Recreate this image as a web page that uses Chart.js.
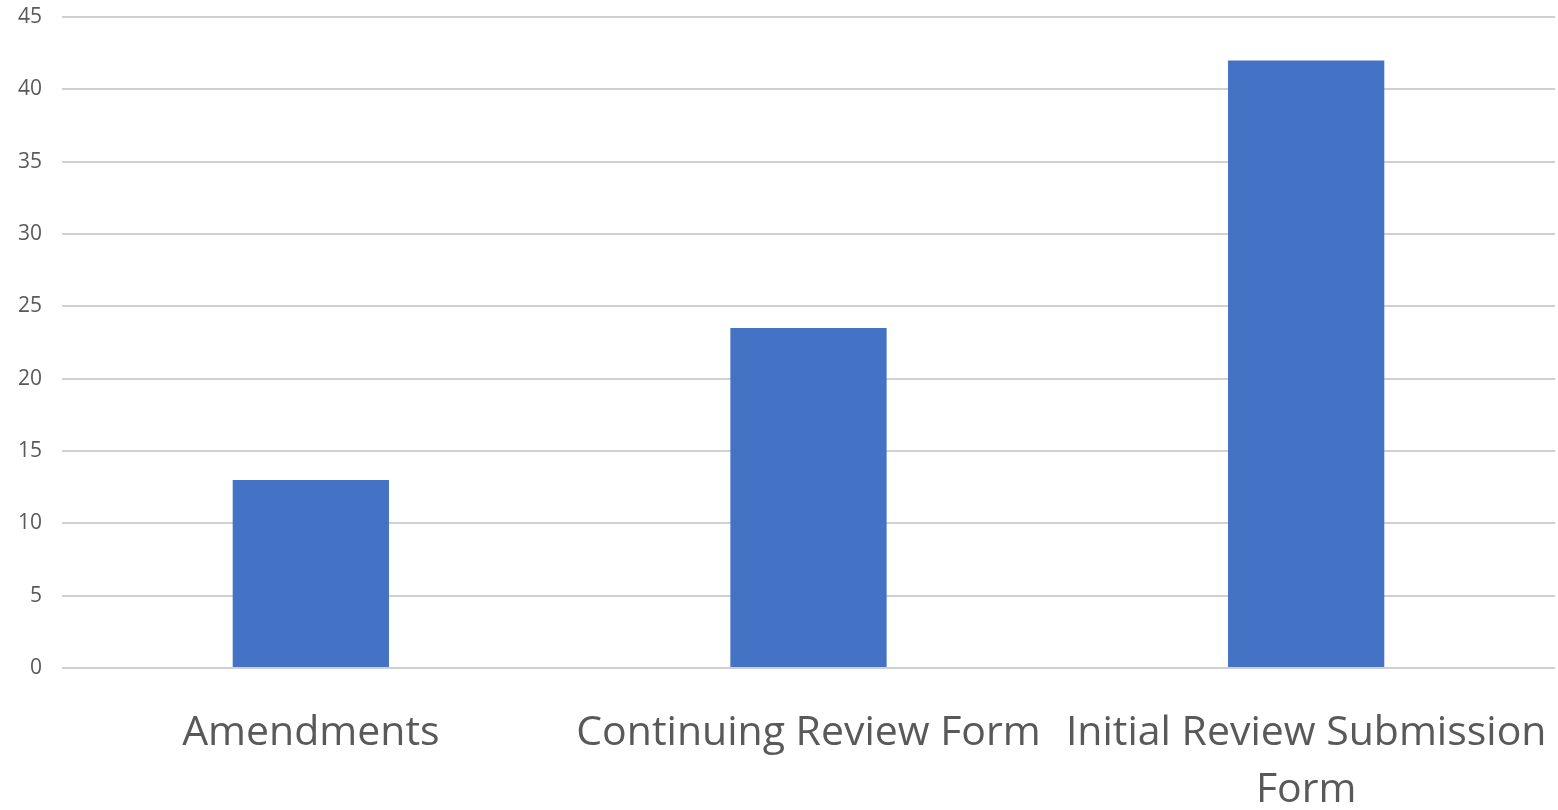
<!DOCTYPE html>
<html>
<head>
<meta charset="utf-8">
<title>Forms</title>
<script src="https://cdn.jsdelivr.net/npm/chart.js@4.4.1/dist/chart.umd.min.js"></script>
<style>
  html, body { margin: 0; padding: 0; background: #fff; }
  #wrap { width: 1558px; height: 810px; }
</style>
</head>
<body>
<div id="wrap"><canvas id="myChart" width="1558" height="810"></canvas></div>
<script>
// form types and counts
const categories = [
    'Amendments',
    'Continuing Review Form',
    ['Initial Review Submission', 'Form']
];
const counts = [13, 23.5, 42];
const yTicks = [0, 5, 10, 15, 20, 25, 30, 35, 40, 45];

const ctx = document.getElementById('myChart').getContext('2d');

const myChart = new Chart(ctx, {
    type: 'bar',
    data: {
        labels: categories,
        datasets: [{
            label: 'Count',
            data: counts,
            backgroundColor: '#4472C4',
            borderWidth: 0,
            categoryPercentage: 1,
            barPercentage: 0.314
        }]
    },
    options: {
        responsive: false,
        animation: false,
        layout: {
            padding: { top: 17, right: 3, left: 0, bottom: 0 }
        },
        plugins: {
            legend: { display: false },
            tooltip: { enabled: false }
        },
        scales: {
            x: {
                grid: { display: false },
                border: { display: false },
                ticks: {
                    color: '#595959',
                    padding: 29,
                    maxRotation: 0,
                    autoSkip: false,
                    font: { family: '"Open Sans"', size: 41, lineHeight: 1.39 }
                },
                afterFit: function(axis) {
                    axis.height = 142;
                    // labels may spill past the plot edges, as in the original
                    axis.paddingLeft = 0;
                    axis.paddingRight = 0;
                }
            },
            y: {
                min: 0,
                max: 45,
                afterBuildTicks: function(axis) {
                    axis.ticks = yTicks.map(v => ({ value: v }));
                },
                grid: {
                    color: '#d0d0d0',
                    lineWidth: 2,
                    drawTicks: false
                },
                border: { display: false },
                ticks: {
                    color: '#595959',
                    padding: 20,
                    font: { family: '"Open Sans"', size: 21 }
                },
                afterFit: function(axis) {
                    axis.width = 62;
                    axis.paddingTop = 0;
                    axis.paddingBottom = 0;
                }
            }
        }
    }
});
</script>
</body>
</html>
